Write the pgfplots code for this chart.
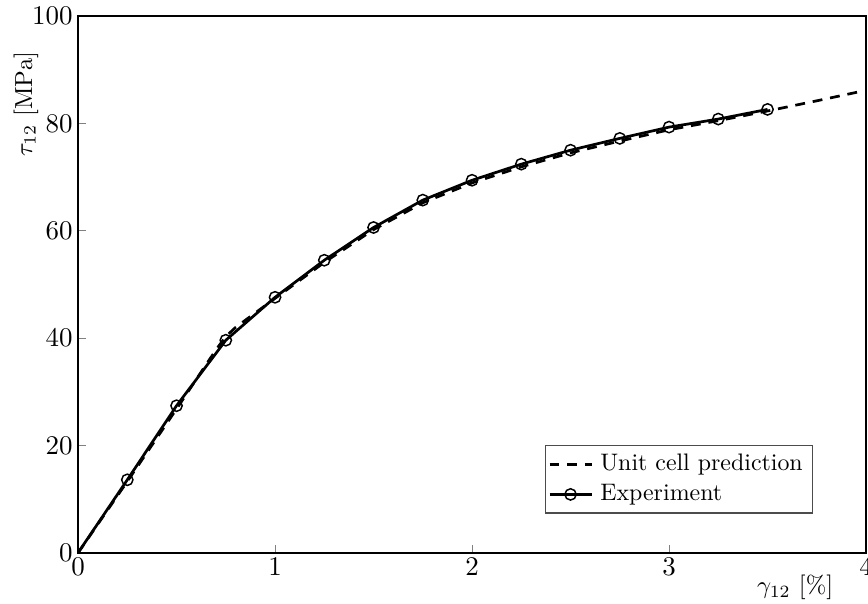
\documentclass[border=0pt]{standalone}
\usepackage{pgfplots}
\pgfplotsset{compat=1.18}
\usetikzlibrary{calc}

\begin{document}
\begin{tikzpicture}
\begin{axis}[
  scale only axis, width=320pt, height=218pt,
  xmin=0, xmax=4, ymin=0, ymax=100,
  xtick={0,1,2,3,4}, ytick={0,20,40,60,80,100},
  xtick pos=left, ytick pos=left, tick align=inside,
  major tick length=3.3pt,
  tick label style={font=\fontsize{11.3}{13}\selectfont},
  xticklabel style={inner sep=2pt},
  yticklabel style={inner sep=2pt},
  axis line style={line width=0.8pt},
  xlabel={$\gamma_{12}$ [\%]}, ylabel={$\tau_{12}$ [MPa]},
  xlabel style={at={(axis description cs:0.91,-0.041)}, anchor=north, inner sep=0pt},
  ylabel style={at={(axis description cs:-0.05,0.836)}, anchor=south, inner sep=0pt},
  legend style={at={(rel axis cs:0.933,0.073)}, anchor=south east,
    draw=black!70, line width=0.5pt, inner xsep=1pt, inner ysep=1.5pt,
    row sep=0pt, font=\fontsize{9.7}{11}\selectfont,
    nodes={inner xsep=3pt}},
  legend cell align=left,
]
\addplot[black, line width=1.1pt, dash pattern=on 4pt off 3.2pt] coordinates {
  (0,0)(0.25,13.3)(0.5,26.8)(0.7,37.8)(0.75,40.3)(0.8,42.0)(1.0,47.4)
  (1.25,54.1)(1.5,60.2)(1.75,65.2)(2.0,68.9)(2.25,71.9)(2.5,74.5)
  (2.75,76.7)(3.0,78.8)(3.25,80.5)(3.5,82.3)(3.75,84.2)(3.98,86.0)};
\addlegendentry{Unit cell prediction}
\addlegendimage{black, line width=1.1pt, mark=o,
  mark options={solid, line width=0.6pt, mark size=2.3pt}}
\addlegendentry{Experiment}
\addplot[black, line width=1.1pt, mark=o, mark indices={2,...,15}, forget plot,
  mark options={solid, line width=0.6pt, mark size=2.3pt}] coordinates {
  (0,0)(0.25,13.6)(0.5,27.4)(0.75,39.6)(1.0,47.6)(1.25,54.5)(1.5,60.6)
  (1.75,65.7)(2.0,69.4)(2.25,72.4)(2.5,75.0)(2.75,77.2)(3.0,79.3)
  (3.25,80.8)(3.5,82.6)};
\end{axis}
\pgfresetboundingbox
\useasboundingbox ($(current axis.south west)+(-31.7pt,-20.7pt)$) rectangle ($(current axis.north east)+(0.8pt,6.5pt)$);
\end{tikzpicture}
\end{document}
